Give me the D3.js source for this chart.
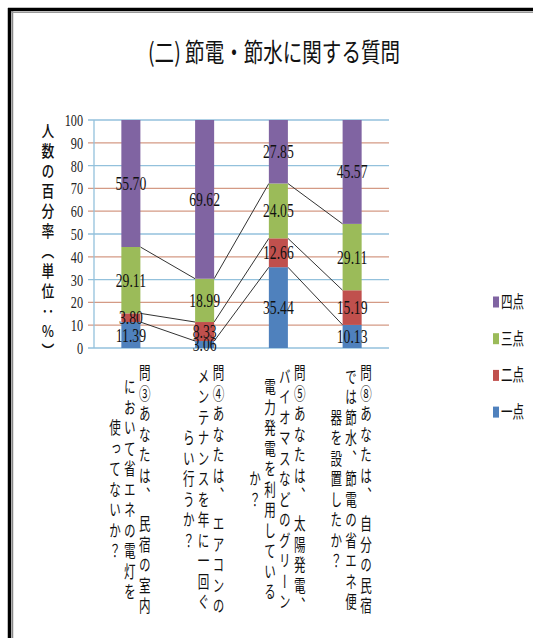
<!DOCTYPE html>
<html><head><meta charset="utf-8">
<script src="https://cdn.jsdelivr.net/npm/d3@7"></script>
<style>
html,body{margin:0;padding:0;background:#fff;}
svg{display:block;}
</style></head>
<body>
<script>
// ---- data ----
const title = "(二) 節電・節水に関する質問";
const yAxisTitle = "人数の百分率（単位：％）";
const categories = ["問③", "問④", "問⑤", "問⑧"];
const categoryLines = [
  ["問③あなたは、 民宿の室内", "において省エネの電灯を", "使ってないか？"],
  ["問④あなたは、 エアコンの", "メンテナンスを年に一回ぐ", "らい行うか？"],
  ["問⑤あなたは、 太陽発電、", "バイオマスなどのグリーン", "電力発電を利用している", "か？"],
  ["問⑧あなたは、 自分の民宿", "では節水、節電の省エネ便", "器を設置したか？"]
];
const seriesNames = ["一点", "二点", "三点", "四点"];
const ichiten = [11.39, 3.06, 35.44, 10.13];
const niten   = [3.80, 8.33, 12.66, 15.19];
const santen  = [29.11, 18.99, 24.05, 29.11];
const yonten  = [55.70, 69.62, 27.85, 45.57];
const yTicks = [0, 10, 20, 30, 40, 50, 60, 70, 80, 90, 100];
const seriesColors = ["#4F81BD", "#C0504D", "#9BBB59", "#8064A2"];
const blueGrid = [0, 30, 50, 80, 100];

// ---- build ----
const W = 533, H = 638;
const svg = d3.select("body").append("svg").attr("width", W).attr("height", H);

// frame
svg.append("line").attr("x1", 9.5).attr("x2", 9.5).attr("y1", 8).attr("y2", H).attr("stroke", "#000").attr("stroke-width", 3.5);
svg.append("line").attr("x1", 8).attr("x2", W).attr("y1", 9.5).attr("y2", 9.5).attr("stroke", "#000").attr("stroke-width", 3.5);
svg.append("line").attr("x1", 12.5).attr("x2", 12.5).attr("y1", 11).attr("y2", H).attr("stroke", "#888").attr("stroke-width", 1.5);
svg.append("line").attr("x1", 11).attr("x2", W).attr("y1", 12.5).attr("y2", 12.5).attr("stroke", "#999").attr("stroke-width", 1.2);

// title
svg.append("text").attr("x", 274).attr("y", 62)
  .attr("text-anchor", "middle")
  .attr("font-family", "'Noto Sans CJK JP', sans-serif")
  .attr("font-size", 26)
  .attr("textLength", 252).attr("lengthAdjust", "spacingAndGlyphs")
  .attr("fill", "#111")
  .text(title);

const x = d3.scaleBand().domain(categories).range([94, 389]).paddingInner(0.742).paddingOuter(0.371);
const y = d3.scaleLinear().domain([0, 100]).range([348, 120]);

// gridlines
svg.append("g").selectAll("line").data(yTicks).join("line")
  .attr("x1", 88).attr("x2", 389)
  .attr("y1", d => y(d)).attr("y2", d => y(d))
  .attr("stroke", d => blueGrid.includes(d) ? "#93c1dc" : "#d49a85")
  .attr("stroke-width", 1.3);

// y axis line
svg.append("line").attr("x1", 94).attr("x2", 94).attr("y1", y(0)).attr("y2", y(100))
  .attr("stroke", "#93c1dc").attr("stroke-width", 1.3);

// tick labels
svg.append("g").selectAll("text").data(yTicks).join("text")
  .attr("transform", d => `translate(83,${y(d) + 6}) scale(0.72,1)`)
  .attr("text-anchor", "end")
  .attr("font-family", "'Liberation Serif', serif")
  .attr("font-size", 17)
  .attr("fill", "#222")
  .text(d => d);

// stacked data
const table = categories.map((c, i) => ({cat: c, "一点": ichiten[i], "二点": niten[i], "三点": santen[i], "四点": yonten[i]}));
const stacked = d3.stack().keys(seriesNames)(table);

// series lines
const sl = svg.append("g");
stacked.slice(0, 3).forEach(layer => {
  for (let i = 0; i < categories.length - 1; i++) {
    sl.append("line")
      .attr("x1", x(categories[i]) + x.bandwidth())
      .attr("x2", x(categories[i + 1]))
      .attr("y1", y(layer[i][1])).attr("y2", y(layer[i + 1][1]))
      .attr("stroke", "#333").attr("stroke-width", 1);
  }
});

// bars
const gBars = svg.append("g");
stacked.forEach((layer, si) => {
  gBars.append("g").attr("fill", seriesColors[si])
    .selectAll("rect").data(layer).join("rect")
    .attr("x", (d, i) => x(categories[i]))
    .attr("width", x.bandwidth())
    .attr("y", d => y(d[1]))
    .attr("height", d => y(d[0]) - y(d[1]));
});

// data labels
stacked.forEach((layer, si) => {
  svg.append("g").selectAll("text").data(layer).join("text")
    .attr("transform", (d, i) => `translate(${x(categories[i]) + x.bandwidth() / 2},${y((d[0] + d[1]) / 2) + 6.5}) scale(0.72,1)`)
    .attr("text-anchor", "middle")
    .attr("font-family", "'Liberation Serif', serif")
    .attr("font-size", 19)
    .attr("fill", "#111")
    .text(d => (d[1] - d[0]).toFixed(2));
});

// y axis title (vertical)
svg.append("g").attr("transform", "translate(48,243) scale(0.8,1)")
  .append("text")
  .attr("x", 0).attr("y", 0)
  .style("writing-mode", "vertical-rl")
  .attr("text-anchor", "middle")
  .attr("font-family", "'Noto Sans CJK JP', sans-serif")
  .attr("font-size", 16)
  .attr("font-weight", 500)
  .attr("letter-spacing", 4)
  .attr("fill", "#111")
  .text(yAxisTitle);

// category labels (vertical, multi-column)
const colPitch = 22, sx = 0.68;
categoryLines.forEach((lines, i) => {
  const cx = x(categories[i]) + x.bandwidth() / 2;
  const g = svg.append("g").attr("transform", `translate(${cx - 1},491) scale(${sx},1)`);
  const n = lines.length;
  g.selectAll("text").data(lines).join("text")
    .attr("x", (d, j) => ((n - 1) / 2 - j) * colPitch)
    .attr("y", 0)
    .style("writing-mode", "vertical-rl")
    .attr("text-anchor", "middle")
    .attr("font-family", "'Noto Sans CJK JP', sans-serif")
    .attr("font-size", 17)
    .attr("letter-spacing", 3.5)
    .attr("fill", "#111")
    .text(d => d);
});

// legend
const legOrder = [3, 2, 1, 0];
const leg = svg.append("g");
legOrder.forEach((si, k) => {
  const cy = 302 + k * 36.7;
  leg.append("rect").attr("x", 493).attr("y", cy - 5.5).attr("width", 6).attr("height", 11).attr("fill", seriesColors[si]);
  leg.append("text")
    .attr("transform", `translate(501,${cy + 6}) scale(0.68,1)`)
    .attr("font-family", "'Noto Sans CJK JP', sans-serif")
    .attr("font-size", 17)
    .attr("fill", "#111")
    .text(seriesNames[si]);
});
</script>
</body></html>
